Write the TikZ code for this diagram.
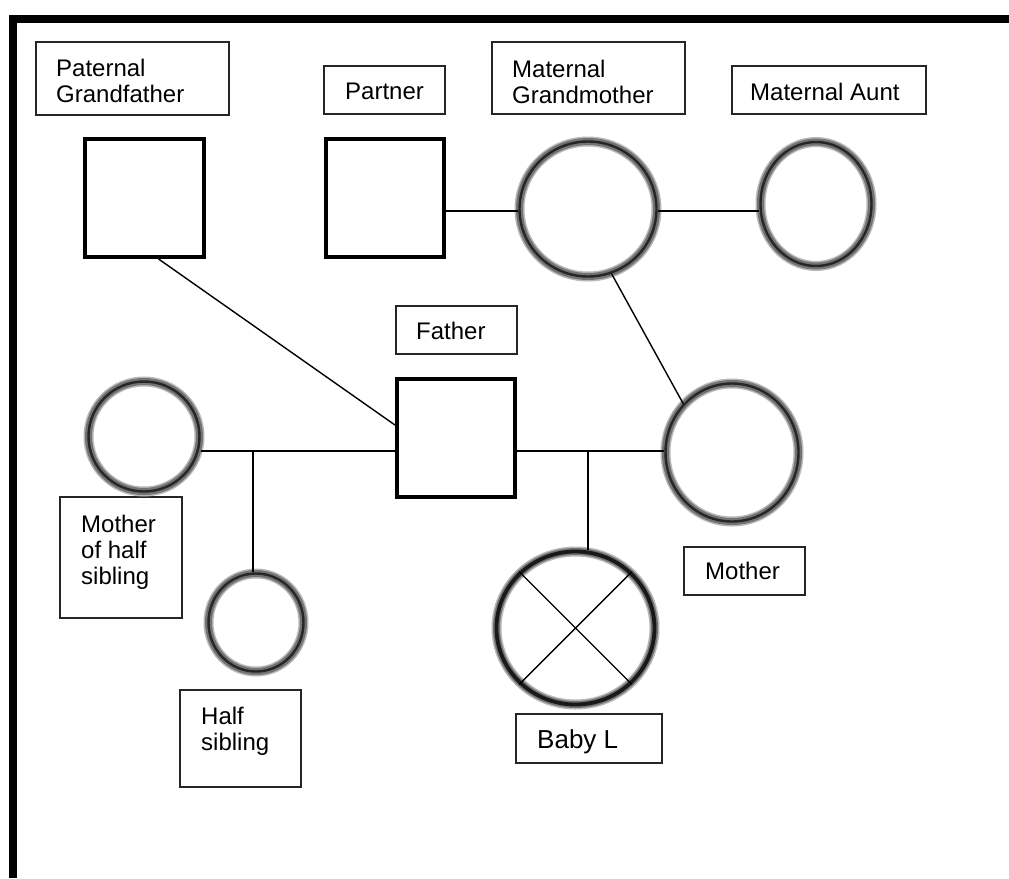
\documentclass[tikz,border=0pt]{standalone}
\usepackage{fontspec}
\setmainfont{Liberation Sans}
\usetikzlibrary{shapes.geometric}
\begin{document}
\begin{tikzpicture}[x=1pt,y=-1pt,
  sq/.style={rectangle, draw=black, line width=4pt, inner sep=0pt},
  circ/.style={ellipse, draw=black!85, line width=2.4pt, inner sep=0pt,
    preaction={draw=black!28, line width=10pt},
    preaction={draw=black!55, line width=7pt}},
  lbox/.style={rectangle, draw=black!85, line width=1.3pt, inner sep=0pt},
  lbl/.style={anchor=base west, inner sep=0pt, align=left, font=\fontsize{24}{26}\selectfont},
  conn/.style={line width=1.6pt},
  diag/.style={line width=1.4pt}]
\useasboundingbox (0,0) rectangle (1009,878);
\fill[white] (0,0) rectangle (1009,878);
% frame
\draw[line width=8pt] (13,878) -- (13,18.5) -- (1009,18.5);
% label boxes
\node[lbox, minimum width=193pt, minimum height=73pt] (pgbox) at (132.5,78.5) {};
\node[lbox, minimum width=121pt, minimum height=48pt] (partnerbox) at (384.5,90) {};
\node[lbox, minimum width=193pt, minimum height=72pt] (mgmbox) at (588.5,78) {};
\node[lbox, minimum width=194pt, minimum height=48pt] (auntbox) at (829,90) {};
\node[lbox, minimum width=121pt, minimum height=48pt] (fatherbox) at (456.5,330) {};
\node[lbox, minimum width=122pt, minimum height=121pt] (mohsbox) at (121,557.5) {};
\node[lbox, minimum width=121pt, minimum height=97pt] (hsbox) at (240.5,738.5) {};
\node[lbox, minimum width=121pt, minimum height=48pt] (motherbox) at (744.5,571) {};
\node[lbox, minimum width=146pt, minimum height=49pt] (babybox) at (589,738.5) {};
% texts (anchor = baseline of last line)
\node[lbl] (tpg) at (56,102) {Paternal\\Grandfather};
\node[lbl] (tpartner) at (345,99) {Partner};
\node[lbl] (tmgm) at (512,103) {Maternal\\Grandmother};
\node[lbl] (taunt) at (750,100) {Maternal Aunt};
\node[lbl] (tfather) at (416,339) {Father};
\node[lbl] (tmohs) at (81,584) {Mother\\of half\\sibling};
\node[lbl] (ths) at (201,750) {Half\\sibling};
\node[lbl] (tmother) at (705,579) {Mother};
\node[lbl, font=\fontsize{26}{28}\selectfont] (tbaby) at (537,748) {Baby L};
% squares
\node[sq, minimum width=119pt, minimum height=118pt] (pg) at (144.5,198) {};
\node[sq, minimum width=118pt, minimum height=118pt] (partner) at (385,198) {};
\node[sq, minimum width=118pt, minimum height=118pt] (father) at (456,438) {};
% circles
\node[circ, minimum width=137pt, minimum height=135pt] (mgm) at (588,209) {};
\node[circ, minimum width=111pt, minimum height=124pt] (aunt) at (816,204) {};
\node[circ, minimum width=111pt, minimum height=110pt] (mohs) at (144,436.5) {};
\node[circ, minimum width=95pt, minimum height=98pt] (hs) at (256,622.5) {};
\node[circ, minimum width=133pt, minimum height=138pt] (mother) at (732,452.5) {};
\node[circ, draw=black!90, line width=3.8pt, minimum width=158pt, minimum height=153pt] (baby) at (575.5,628) {};
% junctions
\coordinate (j1) at (253,451);
\coordinate (j2) at (588,451);
\coordinate (j3) at (480,211);
% connectors
\draw[conn] (mohs.east |- j1) -- (father.west |- j1);
\draw[conn] (j1) -- (j1 |- hs.north);
\draw[conn] (father.east |- j2) -- (mother.west |- j2);
\draw[conn] (j2) -- (j2 |- baby.north);
\draw[conn] (partner.east |- j3) -- (mgm.west |- j3);
\draw[conn] (mgm.east |- j3) -- (aunt.west |- j3);
\draw[diag] (pg.-77.5) -- (father.168);
\draw[diag] (mgm.-70) -- (mother.135);
\draw[diag] (baby.135) -- (baby.-45);
\draw[diag] (baby.45) -- (baby.-135);
\end{tikzpicture}
\end{document}
